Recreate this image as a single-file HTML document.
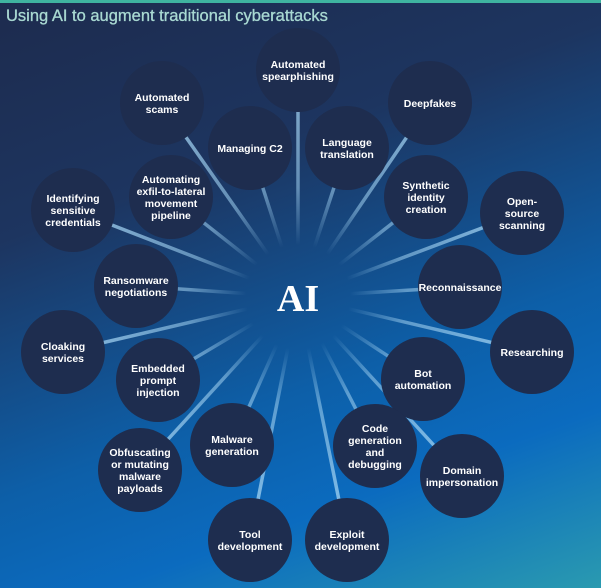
<!DOCTYPE html>
<html><head><meta charset="utf-8"><style>
body{margin:0;width:601px;height:588px;overflow:hidden;font-family:"Liberation Sans",sans-serif}
#bg{position:absolute;left:0;top:0;width:601px;height:588px;background:linear-gradient(160deg,#1d2b4e 0%,#1d3560 30%,#0d5fa8 62%,#0b6bbf 78%,#2a9ab0 100%)}
#bar{position:absolute;left:0;top:0;width:601px;height:3px;background:#3fb4a0}
#t{position:absolute;left:6px;top:7px;font-size:16.5px;color:#a9d9d2;-webkit-text-stroke:0.3px #a9d9d2}
svg{position:absolute;left:0;top:0}
</style></head><body>
<div id="bg"></div><div id="bar"></div>
<div id="t">Using AI to augment traditional cyberattacks</div>
<svg width="601" height="588" viewBox="0 0 601 588" font-family="Liberation Sans, sans-serif">
<defs>
<radialGradient id="g" gradientUnits="userSpaceOnUse" cx="298" cy="297" r="260">
<stop offset="0.2" stop-color="#9fd0f0" stop-opacity="0"/>
<stop offset="0.42" stop-color="#9fd0f0" stop-opacity="0.55"/>
<stop offset="1" stop-color="#9fd0f0" stop-opacity="0.9"/>
</radialGradient>
</defs>
<g id="lines" stroke="url(#g)" stroke-width="3.5"></g>
<g id="nodes"></g>
<text x="298" y="311" text-anchor="middle" font-family="Liberation Serif, serif" font-weight="bold" font-size="38" fill="#fff">AI</text>
</svg>
<script>
const N=[
[298,70,["Automated","spearphishing"]],
[430,103,["Deepfakes"]],
[162,103,["Automated","scams"]],
[250,148,["Managing C2"]],
[347,148,["Language","translation"]],
[426,197,["Synthetic","identity","creation"]],
[522,213,["Open-","source","scanning"]],
[73,210,["Identifying","sensitive","credentials"]],
[171,197,["Automating","exfil-to-lateral","movement","pipeline"]],
[136,286,["Ransomware","negotiations"]],
[460,287,["Reconnaissance"]],
[532,352,["Researching"]],
[63,352,["Cloaking","services"]],
[158,380,["Embedded","prompt","injection"]],
[423,379,["Bot","automation"]],
[232,445,["Malware","generation"]],
[375,446,["Code","generation","and","debugging"]],
[140,470,["Obfuscating","or mutating","malware","payloads"]],
[462,476,["Domain","impersonation"]],
[250,540,["Tool","development"]],
[347,540,["Exploit","development"]]];
const L=document.getElementById('lines'),G=document.getElementById('nodes'),ns="http://www.w3.org/2000/svg";
N.forEach(([x,y,t])=>{
 let l=document.createElementNS(ns,'line');
 l.setAttribute('x1',298);l.setAttribute('y1',297);l.setAttribute('x2',x);l.setAttribute('y2',y);L.appendChild(l);
 let c=document.createElementNS(ns,'circle');
 c.setAttribute('cx',x);c.setAttribute('cy',y);c.setAttribute('r',42);c.setAttribute('fill','#1e2d4f');G.appendChild(c);
 let lh=12,y0=y-(t.length-1)*lh/2+4;
 t.forEach((s,i)=>{let e=document.createElementNS(ns,'text');
 e.setAttribute('x',x);e.setAttribute('y',y0+i*lh);e.setAttribute('text-anchor','middle');
 e.setAttribute('font-size','10.5');e.setAttribute('font-weight','bold');e.setAttribute('fill','#fff');
 e.textContent=s;G.appendChild(e);});
});
</script>
</body></html>
